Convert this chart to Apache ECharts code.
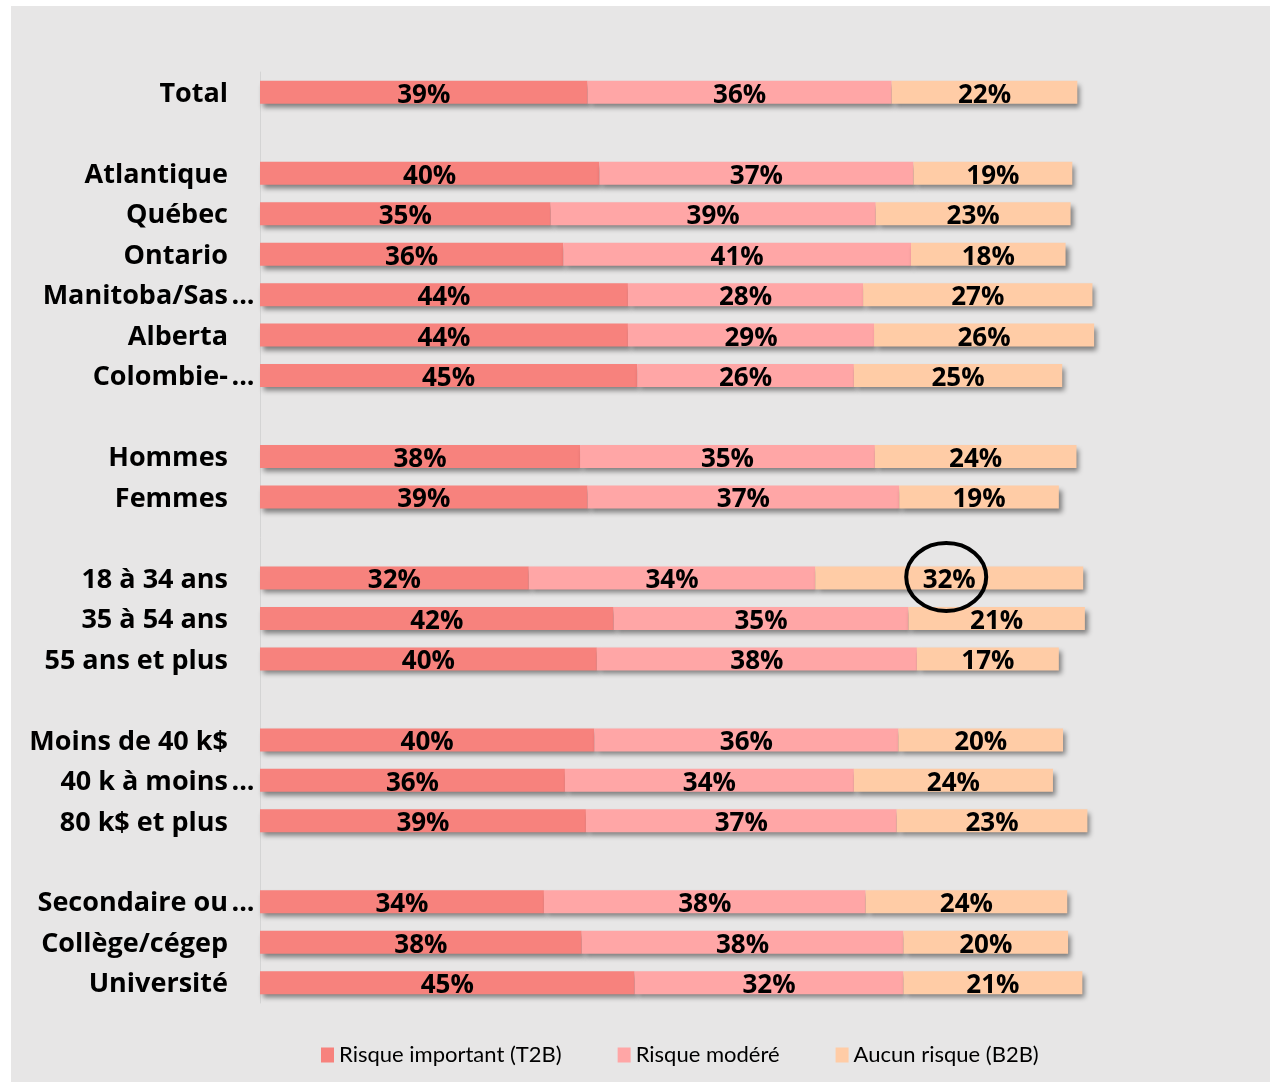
<!DOCTYPE html>
<html>
<head>
<meta charset="utf-8">
<script src="https://cdn.jsdelivr.net/npm/echarts@6/dist/echarts.min.js"></script>
<style>
html,body{margin:0;padding:0;background:#fff;}
#chart{width:1270px;height:1082px;}
</style>
</head>
<body>
<div id="chart"></div>
<script>
// Categories (blank entries are spacer rows)
var categories = ['Total', ' ', 'Atlantique', 'Québec', 'Ontario', 'Manitoba/Sas...', 'Alberta', 'Colombie-...', '  ',
  'Hommes', 'Femmes', '   ', '18 à 34 ans', '35 à 54 ans', '55 ans et plus', '    ',
  'Moins de 40 k$', '40 k à moins...', '80 k$ et plus', '     ', 'Secondaire ou...', 'Collège/cégep', 'Université'];
var seriesNames = ['Risque important (T2B)', 'Risque modéré', 'Aucun risque (B2B)'];
var t2b      = [39.0, null, 40.4, 34.6, 36.1, 43.8, 43.8, 44.9, null, 38.1, 39.0, null, 32.0, 42.1, 40.1, null, 39.8, 36.3, 38.8, null, 33.8, 38.3, 44.6];
var moderate = [36.2, null, 37.4, 38.7, 41.4, 28.0, 29.3, 25.8, null, 35.1, 37.1, null, 34.1, 35.1, 38.1, null, 36.2, 34.4, 37.0, null, 38.3, 38.3, 32.0];
var b2b      = [22.1, null, 18.9, 23.2, 18.4, 27.3, 26.2, 24.8, null, 24.0, 19.0, null, 31.9, 21.0, 16.9, null, 19.6, 23.7, 22.7, null, 24.0, 19.6, 21.3];
var colors = ['#f7827d', '#ffa6a6', '#ffcca6'];
var highlightCategory = '18 à 34 ans';

var chart = echarts.init(document.getElementById('chart'), null, {renderer: 'canvas'});
var FONT = 'Open Sans';
var LEGEND_FONT = 'Lato';

function makeSeries(name, data, color) {
  return {
    name: name,
    type: 'bar',
    stack: 'total',
    barWidth: 23,
    data: data,
    itemStyle: {
      color: color,
      shadowBlur: 5,
      shadowOffsetX: 3,
      shadowOffsetY: 4,
      shadowColor: 'rgba(0,0,0,0.45)'
    },
    label: {
      show: true,
      position: 'inside',
      offset: [0, 3],
      color: '#000',
      fontFamily: FONT,
      fontWeight: 'bold',
      fontSize: 26,
      formatter: function (p) { return p.value == null ? '' : Math.round(p.value) + '%'; }
    },
    emphasis: {disabled: true}
  };
}

var bgRect = {
  type: 'rect', left: 11, top: 6, z: -10, silent: true,
  shape: {width: 1259, height: 1076},
  style: {fill: '#e7e6e6'}
};

var option = {
  animation: false,
  backgroundColor: '#ffffff',
  graphic: [bgRect],
  legend: {
    bottom: 11,
    left: 316,
    itemWidth: 13,
    itemHeight: 15,
    itemGap: 56,
    icon: 'rect',
    textStyle: {fontFamily: LEGEND_FONT, fontSize: 22, color: '#000'},
    data: seriesNames
  },
  grid: {left: 260, right: 170, top: 72, bottom: 79, containLabel: false},
  xAxis: {
    type: 'value', min: 0, max: 100, show: false
  },
  yAxis: {
    type: 'category',
    inverse: true,
    data: categories,
    axisLine: {show: true, lineStyle: {color: '#d4d4d4', width: 1}},
    axisTick: {show: false},
    axisLabel: {
      margin: 2,
      padding: [4, 0, 0, 0],
      color: '#000',
      fontFamily: FONT,
      fontWeight: 'bold',
      fontSize: 27,
      formatter: function (v) {
        if (v.trim() === '') return '';
        if (v.slice(-3) === '...') return v.slice(0, -3) + '{e|...}';
        return v + '{s|}';
      },
      rich: {
        e: {width: 30, align: 'left', fontFamily: FONT, fontWeight: 'bold', fontSize: 27, color: '#000'},
        s: {width: 30, fontFamily: FONT, fontWeight: 'bold', fontSize: 27}
      }
    }
  },
  series: [
    makeSeries(seriesNames[0], t2b, colors[0]),
    makeSeries(seriesNames[1], moderate, colors[1]),
    makeSeries(seriesNames[2], b2b, colors[2])
  ]
};
chart.setOption(option);

// Annotation ellipse around the highlighted B2B value
var idx = categories.indexOf(highlightCategory);
var segCenter = t2b[idx] + moderate[idx] + b2b[idx] / 2;
var pt = chart.convertToPixel({gridIndex: 0}, [segCenter, highlightCategory]);
chart.setOption({
  graphic: [bgRect, {
    type: 'ellipse', silent: true, z: 100,
    shape: {cx: pt[0] - 3, cy: pt[1] - 1, rx: 40, ry: 34},
    style: {fill: 'none', stroke: '#000', lineWidth: 4}
  }]
});
</script>
</body>
</html>
